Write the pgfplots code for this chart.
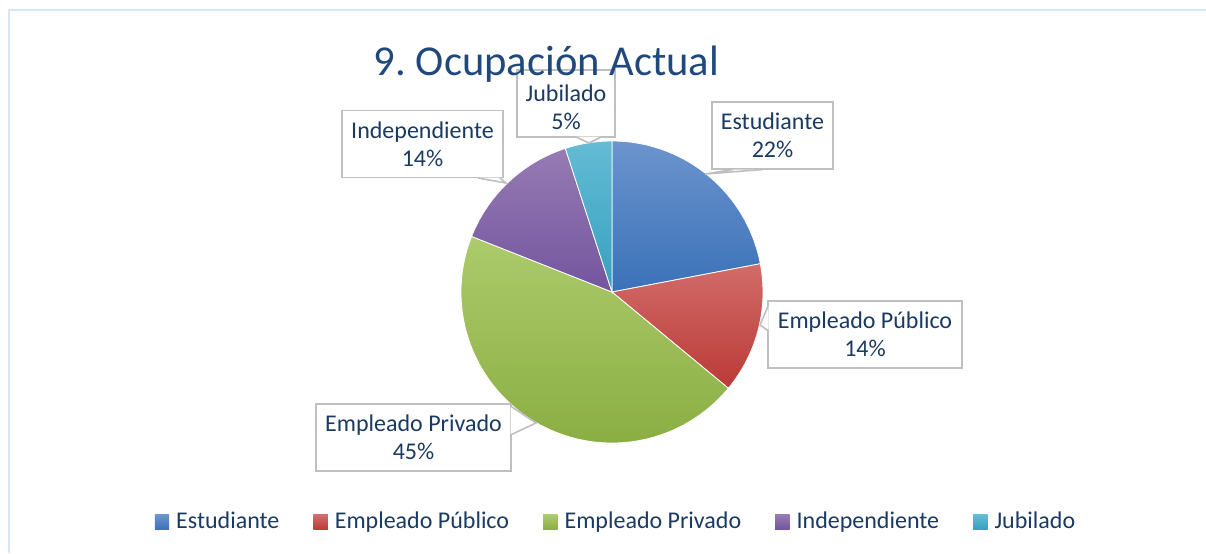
\documentclass[border=0pt]{standalone}
\usepackage{fontspec}
\setmainfont{Carlito}
\usepackage{pgfplots}
\pgfplotsset{compat=1.18}
\frenchspacing
\definecolor{titlec}{RGB}{31,73,125}
\definecolor{txt}{RGB}{26,58,98}
\definecolor{boxgray}{RGB}{191,191,191}
\definecolor{frame}{RGB}{217,228,245}
\definecolor{estT}{RGB}{108,148,205}\definecolor{estB}{RGB}{58,113,184}
\definecolor{pubT}{RGB}{210,108,105}\definecolor{pubB}{RGB}{186,58,55}
\definecolor{priT}{RGB}{172,203,108}\definecolor{priB}{RGB}{139,174,67}
\definecolor{indT}{RGB}{150,123,180}\definecolor{indB}{RGB}{115,85,158}
\definecolor{jubT}{RGB}{100,187,212}\definecolor{jubB}{RGB}{52,161,192}
% values (percent)
\def\vEst{22}\def\vPub{14}\def\vPri{45}\def\vInd{14}\def\vJub{5}
\pgfmathsetmacro{\aA}{90}
\pgfmathsetmacro{\aB}{\aA-3.6*\vEst}
\pgfmathsetmacro{\aC}{\aB-3.6*\vPub}
\pgfmathsetmacro{\aD}{\aC-3.6*\vPri}
\pgfmathsetmacro{\aE}{\aD-3.6*\vInd}
\pgfmathsetmacro{\aF}{\aE-3.6*\vJub}
\def\cx{612}\def\cy{292}\def\rr{151}
\begin{document}
\begin{tikzpicture}
\begin{axis}[width=603pt,height=276.5pt,scale only axis,
  xmin=0,xmax=1206,ymin=0,ymax=553,y dir=reverse,hide axis,clip=false,
  legend columns=5,
  legend style={at={(axis cs:616,522)},anchor=center,draw=none,fill=none,
    font=\fontsize{12}{14}\selectfont,text=txt,
    /tikz/every odd column/.append style={column sep=2.5pt},
    /tikz/every even column/.append style={column sep=16pt},
    nodes={inner sep=1pt}},
  legend cell align=left,
  legend image code/.code={\path[#1,draw=none] (0pt,-3.6pt) rectangle (7.2pt,3.6pt);}]
\coordinate (BL) at (axis cs:0,553);
\coordinate (TR) at (axis cs:1206,0);
\draw[frame,line width=1pt] (axis cs:9,553) -- (axis cs:9,10) -- (axis cs:1206,10);
% slices
\addplot[forget plot,top color=estT,bottom color=estB,draw=white,line width=0.4pt,domain=\aB:\aA,samples=80]
  ({\cx+\rr*cos(x)},{\cy-\rr*sin(x)}) -- (axis cs:\cx,\cy) -- cycle;
\addplot[forget plot,top color=pubT,bottom color=pubB,draw=white,line width=0.4pt,domain=\aC:\aB,samples=60]
  ({\cx+\rr*cos(x)},{\cy-\rr*sin(x)}) -- (axis cs:\cx,\cy) -- cycle;
\addplot[forget plot,top color=priT,bottom color=priB,draw=white,line width=0.4pt,domain=\aD:\aC,samples=150]
  ({\cx+\rr*cos(x)},{\cy-\rr*sin(x)}) -- (axis cs:\cx,\cy) -- cycle;
\addplot[forget plot,top color=indT,bottom color=indB,draw=white,line width=0.4pt,domain=\aE:\aD,samples=60]
  ({\cx+\rr*cos(x)},{\cy-\rr*sin(x)}) -- (axis cs:\cx,\cy) -- cycle;
\addplot[forget plot,top color=jubT,bottom color=jubB,draw=white,line width=0.4pt,domain=\aF:\aE,samples=30]
  ({\cx+\rr*cos(x)},{\cy-\rr*sin(x)}) -- (axis cs:\cx,\cy) -- cycle;
% legend
\addlegendimage{top color=estT,bottom color=estB}\addlegendentry{Estudiante}
\addlegendimage{top color=pubT,bottom color=pubB}\addlegendentry{Empleado Público}
\addlegendimage{top color=priT,bottom color=priB}\addlegendentry{Empleado Privado}
\addlegendimage{top color=indT,bottom color=indB}\addlegendentry{Independiente}
\addlegendimage{top color=jubT,bottom color=jubB}\addlegendentry{Jubilado}
% label boxes
\tikzset{lab/.style={draw=boxgray,line width=0.8pt,fill=white,align=center,text=txt,
  font=\fontsize{12}{14}\selectfont,inner sep=0pt,minimum height=33.5pt}}
\node[lab,minimum width=49pt] at (axis cs:566,103.5) {};
\node[align=center,text=txt,font=\fontsize{12}{14}\selectfont,inner sep=0pt] at (axis cs:566,107) {Jubilado\\5\%};
\node[lab,minimum width=80.5pt] at (axis cs:422.5,144) {Independiente\\14\%};
\node[lab,minimum width=60.5pt] at (axis cs:772.5,135.5) {Estudiante\\22\%};
\node[lab,minimum width=97pt] at (axis cs:865,334.5) {Empleado Público\\14\%};
\node[lab,minimum width=97.5pt] at (axis cs:413.5,437.5) {Empleado Privado\\45\%};
% pointers
\tikzset{ptr/.style={draw=boxgray,line width=0.8pt}}
\fill[white] (axis cs:576,136.5) -- (axis cs:589,143) -- (axis cs:601,136.5) -- cycle;
\draw[ptr] (axis cs:576,137) -- (axis cs:589,143) -- (axis cs:601,137);
\fill[white] (axis cs:478,177.5) -- (axis cs:506,183) -- (axis cs:500,177.5) -- cycle;
\draw[ptr] (axis cs:478,178) -- (axis cs:506,183) -- (axis cs:500,178);
\fill[white] (axis cs:733,169.5) -- (axis cs:705,174) -- (axis cs:763,169.5) -- cycle;
\draw[ptr] (axis cs:733,169.5) -- (axis cs:705,174) -- (axis cs:763,169.5);
\fill[white] (axis cs:768.5,305) -- (axis cs:760,325) -- (axis cs:768.5,331) -- cycle;
\draw[ptr] (axis cs:768.5,305) -- (axis cs:760,325) -- (axis cs:768.5,331);
\fill[white] (axis cs:510.5,406) -- (axis cs:536,423) -- (axis cs:510.5,435) -- cycle;
\draw[ptr] (axis cs:510.5,406) -- (axis cs:536,423) -- (axis cs:510.5,435);
% title
\node[text=titlec,font=\fontsize{21.3}{24}\selectfont,anchor=base,inner sep=0pt] at (axis cs:546.5,75) {9. Ocupación Actual};
\end{axis}
\pgfresetboundingbox
\path (BL) rectangle (TR);
\end{tikzpicture}
\end{document}
